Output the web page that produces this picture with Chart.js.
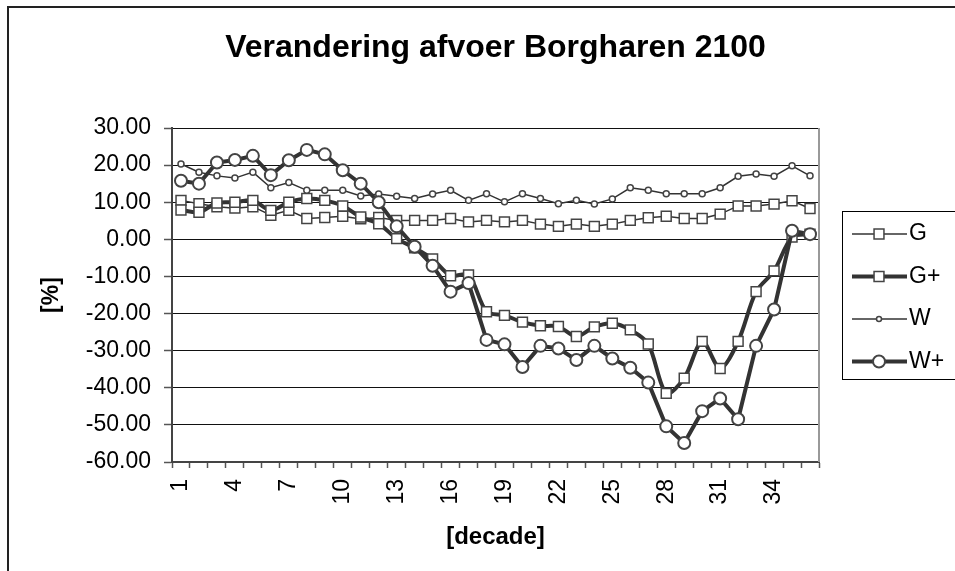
<!DOCTYPE html>
<html>
<head>
<meta charset="utf-8">
<script src="https://cdn.jsdelivr.net/npm/chart.js@4.4.1/dist/chart.umd.min.js"></script>
<style>
body{margin:0;background:#fff;}
#wrap{width:955px;height:571px;}
</style>
</head>
<body>
<div id="wrap"><canvas id="chart" width="955" height="571"></canvas></div>
<script>
// decades
const decades=[1,2,3,4,5,6,7,8,9,10,11,12,13,14,15,16,17,18,19,20,21,22,23,24,25,26,27,28,29,30,31,32,33,34,35,36];
const yTicks=[30,20,10,0,-10,-20,-30,-40,-50,-60];

// afvoer verandering [%]
const G=[10.5,9.6,8.8,8.4,8.8,6.5,7.8,5.6,5.9,6.2,5.5,5.9,5.1,5.1,5.1,5.6,4.7,5.1,4.7,5.1,4.1,3.5,4.1,3.5,4.1,5.1,5.8,6.2,5.6,5.6,6.8,9.0,9.0,9.5,10.4,8.3];
const Gplus=[7.9,7.3,9.8,10.0,10.5,7.8,10.0,11.0,10.5,9.0,6.0,4.2,0.2,-2.3,-5.3,-9.8,-9.6,-19.5,-20.5,-22.3,-23.3,-23.5,-26.2,-23.6,-22.6,-24.4,-28.2,-41.5,-37.4,-27.5,-34.8,-27.5,-14.1,-8.5,0.6,1.4];
const W=[20.3,18.1,17.1,16.5,18.1,13.9,15.3,13.2,13.2,13.2,11.7,12.2,11.6,11.0,12.2,13.2,10.5,12.3,10.1,12.3,11.0,9.6,10.5,9.5,10.9,13.9,13.2,12.3,12.3,12.3,13.9,17.0,17.6,17.0,19.8,17.1];
const Wplus=[15.8,15.0,20.7,21.4,22.5,17.3,21.3,24.1,22.9,18.6,15.0,10.0,3.5,-2.0,-7.1,-14.1,-11.8,-27.1,-28.3,-34.4,-28.7,-29.4,-32.5,-28.7,-32.1,-34.6,-38.6,-50.4,-54.9,-46.3,-42.9,-48.5,-28.7,-18.9,2.3,1.4];

const FONT='"Liberation Sans", Arial, sans-serif';

function mark(ctx,style,r,x,y){
  ctx.beginPath();
  if(style==='rect'){const s=r*Math.SQRT1_2;ctx.rect(x-s,y-s,2*s,2*s);}
  else ctx.arc(x,y,r,0,Math.PI*2);
  ctx.fill();ctx.stroke();
}

// frame, plot border and legend
const extras={
  id:'extras',
  beforeDraw(c){
    const ctx=c.ctx;
    ctx.save();
    ctx.fillStyle='#222';
    ctx.fillRect(7,6,2,571);
    ctx.fillRect(7,6,960,2);
    ctx.restore();
  },
  afterDraw(c){
    const ctx=c.ctx,a=c.chartArea;
    ctx.save();
    ctx.strokeStyle='#999';ctx.lineWidth=2;
    ctx.beginPath();ctx.moveTo(a.right,a.top);ctx.lineTo(a.right,a.bottom);ctx.stroke();
    ctx.strokeStyle='#000';ctx.lineWidth=1;
    ctx.strokeRect(842.5,211.5,140,168);
    c.data.datasets.forEach((ds,i)=>{
      const y=234+i*42.5;
      ctx.strokeStyle=ds.borderColor;ctx.lineWidth=ds.borderWidth;
      ctx.beginPath();ctx.moveTo(852,y);ctx.lineTo(907,y);ctx.stroke();
      ctx.fillStyle=ds.pointBackgroundColor;ctx.strokeStyle=ds.pointBorderColor;ctx.lineWidth=ds.pointBorderWidth;
      mark(ctx,ds.pointStyle,ds.legendRadius,879,y);
      ctx.fillStyle='#000';ctx.font='23px '+FONT;ctx.textBaseline='middle';ctx.textAlign='left';
      ctx.fillText(ds.label,909,y);
    });
    ctx.restore();
  }
};

function series(label,data,thick,style,r,order){
  return {label,data,order,
    borderColor:'#333',borderWidth:thick?4:1.5,
    pointStyle:style,pointRadius:r,pointHoverRadius:r,legendRadius:style==='circle'&&!thick?2.5:r,
    pointBackgroundColor:'#fff',pointBorderColor:'#444',pointBorderWidth:thick&&style==='circle'?2:1.5,
    tension:label==='G+'?0.3:0,fill:false};
}

new Chart(document.getElementById('chart'),{
  type:'line',
  data:{labels:decades,datasets:[
    series('G',G,false,'rect',7,4),
    series('G+',Gplus,true,'rect',7,3),
    series('W',W,false,'circle',3,2),
    series('W+',Wplus,true,'circle',6,1)
  ]},
  options:{
    responsive:false,animation:false,devicePixelRatio:1,
    layout:{padding:{left:14,right:136,top:14,bottom:10}},
    plugins:{
      legend:{display:false},tooltip:{enabled:false},
      title:{display:true,text:'Verandering afvoer Borgharen 2100',fullSize:false,color:'#000',
        font:{family:FONT,size:32,weight:'bold'},padding:{top:15,bottom:60.6}}
    },
    scales:{
      x:{offset:true,
        grid:{display:true,drawOnChartArea:false,offset:true,tickLength:6,tickColor:'#555',tickWidth:1.5},
        border:{color:'#444',width:2},
        ticks:{autoSkip:false,maxRotation:90,minRotation:90,padding:11,color:'#000',font:{family:FONT,size:23},
          callback:function(v,i){return i%3===0?String(decades[i]):'';}},
        title:{display:true,text:'[decade]',color:'#000',font:{family:FONT,size:24,weight:'bold'},padding:{top:0,bottom:9}},
        afterFit:function(s){s.height=571-10-462;}
      },
      y:{min:-60,max:30,
        afterBuildTicks:function(s){s.ticks=yTicks.map(v=>({value:v}));},
        grid:{color:'#111',lineWidth:1,tickLength:8,tickColor:'#555',tickWidth:1.5},
        border:{color:'#444',width:2},
        ticks:{padding:13,color:'#000',font:{family:FONT,size:23},callback:v=>Number(v).toFixed(2)},
        title:{display:true,text:'[%]',color:'#000',font:{family:FONT,size:23,weight:'bold'},padding:{top:24,bottom:0}},
        afterFit:function(s){s.width=172-14;}
      }
    }
  },
  plugins:[extras]
});
</script>
</body>
</html>
